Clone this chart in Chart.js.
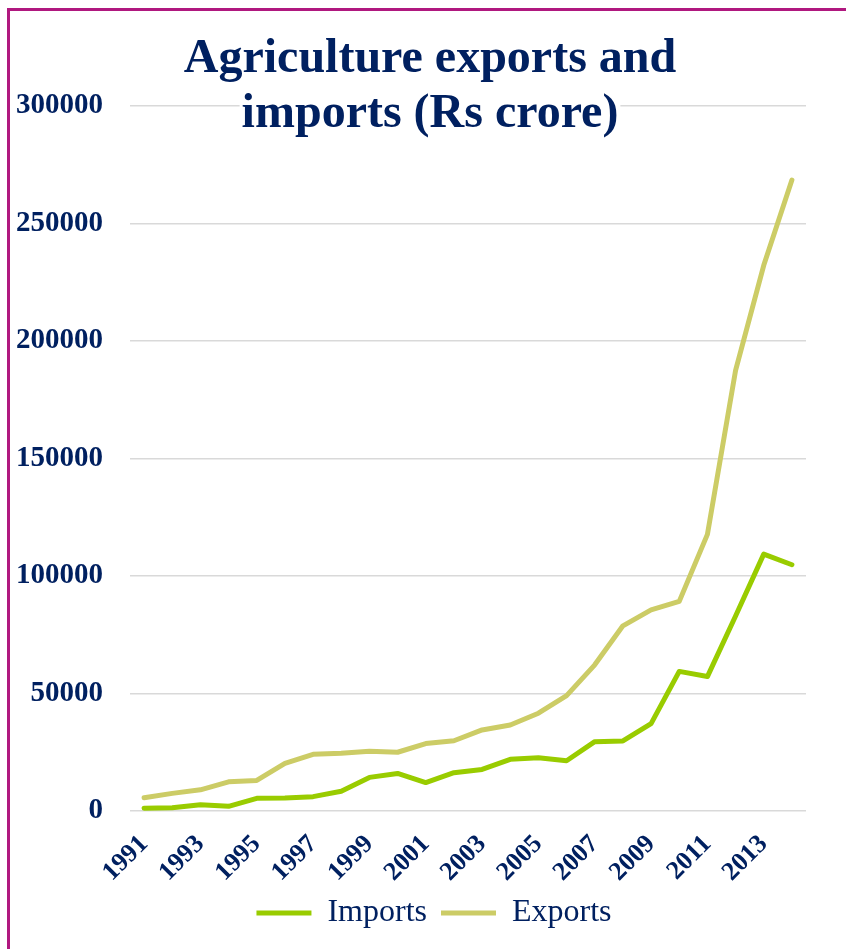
<!DOCTYPE html>
<html>
<head>
<meta charset="utf-8">
<script src="https://cdn.jsdelivr.net/npm/chart.js@4/dist/chart.umd.min.js"></script>
<style>
  body { margin: 0; background: #fff; }
  #wrap { position: relative; width: 846px; height: 949px; }
  #frame {
    position: absolute; left: 7px; top: 8px; right: -10px; bottom: -10px;
    border-left: 3px solid #b0187f; border-top: 3px solid #b0187f;
    pointer-events: none;
  }
</style>
</head>
<body>
<div id="wrap">
  <canvas id="agri-chart" width="846" height="949"></canvas>
  <div id="frame"></div>
</div>
<script>
const years = ['1991', '1992', '1993', '1994', '1995', '1996', '1997', '1998', '1999', '2000', '2001', '2002',
    '2003', '2004', '2005', '2006', '2007', '2008', '2009', '2010', '2011', '2012', '2013', '2014']

const imports = [1200, 1400, 2700, 2000, 5400, 5500, 6100, 8400, 14300, 16000, 12100, 16300,
    17700, 22000, 22700, 21400, 29500, 29800, 37200, 59400, 57200, 83000, 109300, 104800]

const exports = [5600, 7500, 9000, 12400, 13000, 20300, 24100, 24600, 25400, 25000, 28700, 29900,
    34500, 36600, 41600, 49100, 62200, 78800, 85600, 89200, 117700, 187500, 232200, 268500]

const yTicks = [0, 50000, 100000, 150000, 200000, 250000, 300000]

const titleLines = ['Agriculture exports and', 'imports (Rs crore)']

const navy = '#002060'
const serif = '"Liberation Serif", "Times New Roman", serif'

// title sits over the plot like the Excel original, with a white box behind each line
const overlayTitle = {
    id: 'overlayTitle',
    afterLayout(chart) {
        // legend is centred a bit right of the canvas in the original
        chart.legend.left += 23
        chart.legend.right += 23
    },
    afterDraw(chart) {
        const ctx = chart.ctx
        ctx.save()
        ctx.font = 'bold 48px ' + serif
        ctx.textAlign = 'center'
        ctx.textBaseline = 'alphabetic'
        const cx = 430
        titleLines.forEach((line, i) => {
            const w = ctx.measureText(line).width
            ctx.fillStyle = '#fff'
            ctx.fillRect(cx - w / 2 - 2, 72 + i * 55 - 38, w + 4, 50)
        })
        ctx.fillStyle = navy
        titleLines.forEach((line, i) => ctx.fillText(line, cx, 72 + i * 55))
        ctx.restore()
    }
}

new Chart(document.getElementById('agri-chart'), {
    type: 'line',
    data: {
        labels: years,
        datasets: [
            { label: 'Imports', data: imports, borderColor: '#99cc00', backgroundColor: '#99cc00', borderWidth: 5 },
            { label: 'Exports', data: exports, borderColor: '#cccc66', backgroundColor: '#cccc66', borderWidth: 5 }
        ]
    },
    options: {
        responsive: false,
        animation: false,
        layout: { padding: { top: 106, left: 16, right: 40, bottom: 10 } },
        elements: {
            point: { radius: 0 },
            line: { tension: 0, borderCapStyle: 'round', borderJoinStyle: 'round' }
        },
        plugins: {
            legend: {
                position: 'bottom',
                labels: {
                    usePointStyle: true,
                    pointStyle: 'line',
                    pointStyleWidth: 55,
                    padding: 14,
                    color: navy,
                    font: { family: serif, size: 32 }
                }
            },
            tooltip: { enabled: false }
        },
        scales: {
            x: {
                offset: true,
                grid: { display: false },
                border: { display: false },
                afterFit: (scale) => { scale.height = 72 },
                ticks: {
                    autoSkip: false,
                    minRotation: 45,
                    maxRotation: 45,
                    padding: 10,
                    color: navy,
                    font: { family: serif, size: 26, weight: 'bold' },
                    callback: (v, i) => (i % 2 === 0 ? years[i] : '')
                }
            },
            y: {
                min: yTicks[0],
                max: yTicks[yTicks.length - 1],
                afterFit: (scale) => { scale.width = 114 },
                grid: { color: '#d9d9d9', lineWidth: 1.5, drawTicks: false },
                border: { display: false },
                ticks: {
                    stepSize: 50000,
                    padding: 27,
                    color: navy,
                    font: { family: serif, size: 29, weight: 'bold' },
                    callback: (v) => String(v)
                }
            }
        }
    },
    plugins: [overlayTitle]
});
</script>
</body>
</html>
